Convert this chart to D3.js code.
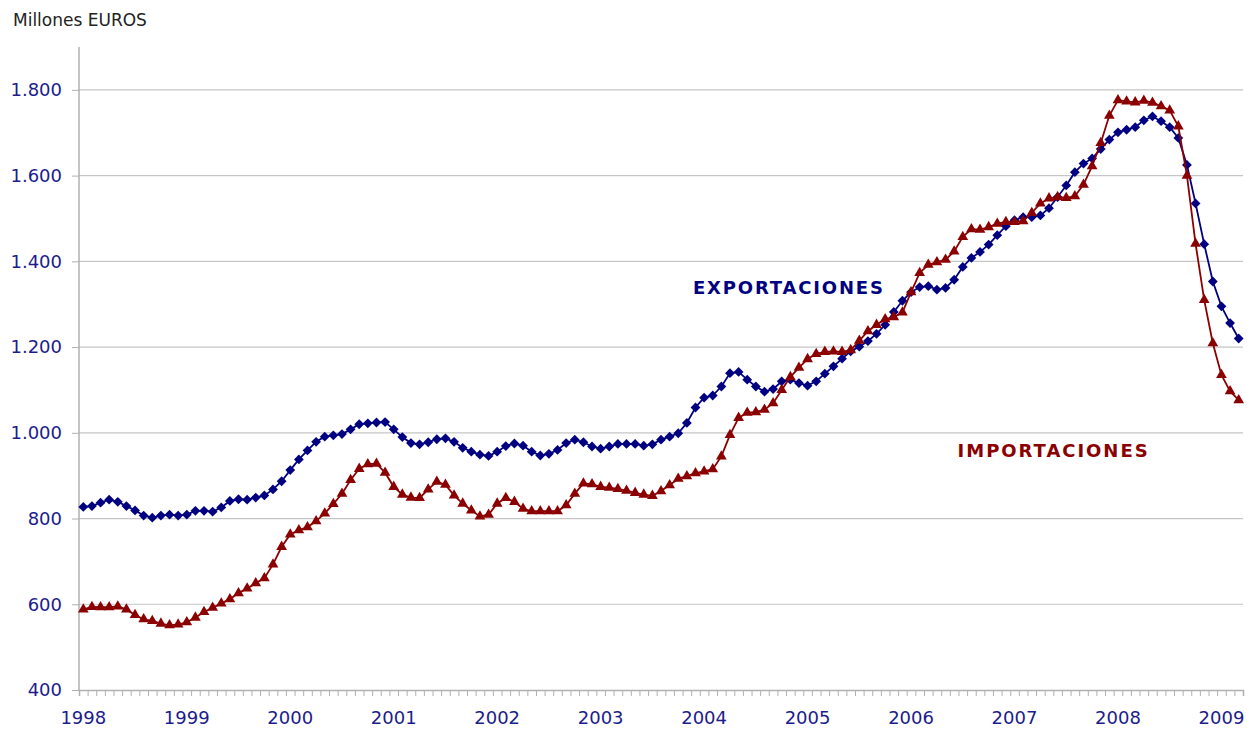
<!DOCTYPE html>
<html>
<head>
<meta charset="utf-8">
<script src="https://cdn.jsdelivr.net/npm/d3@7"></script>
<style>
  body { margin: 0; background: #fff; }
  svg { display: block; font-family: "DejaVu Sans", Verdana, sans-serif; }
</style>
</head>
<body>
<script>
// Monthly values, Jan 1998 - Mar 2009 (millones de euros)
const years = ["1998", "1999", "2000", "2001", "2002", "2003", "2004", "2005", "2006", "2007", "2008", "2009"];

const exportaciones = [
  827, 829, 837, 844, 839, 829, 819, 807, 802, 807, 809, 807,
  809, 818, 818, 816, 826, 841, 845, 844, 849, 854, 868, 887,
  913, 938, 959, 979, 991, 994, 997, 1008, 1020, 1022, 1024, 1025,
  1008, 990, 976, 973, 978, 985, 987, 979, 965, 956, 949, 946,
  956, 969, 975, 970, 956, 947, 951, 960, 976, 984, 978, 968,
  963, 968, 974, 974, 974, 970, 973, 984, 991, 999, 1023, 1059,
  1082, 1087, 1108, 1139, 1142, 1124, 1108, 1096, 1102, 1120, 1124, 1116,
  1110, 1120, 1138, 1155, 1173, 1190, 1201, 1214, 1231, 1252, 1282, 1308,
  1328, 1340, 1342, 1334, 1338, 1357, 1387, 1408, 1422, 1439, 1461, 1482,
  1496, 1503, 1503, 1507, 1524, 1550, 1577, 1608, 1628, 1640, 1662, 1684,
  1701, 1707, 1713, 1729, 1738, 1727, 1713, 1688, 1625, 1535, 1440, 1353,
  1295, 1256, 1220
];

const importaciones = [
  588, 594, 593, 593, 595, 588, 575, 565, 561, 555, 551, 553,
  558, 569, 582, 592, 602, 612, 626, 637, 649, 661, 693, 734,
  763, 773, 780, 794, 812, 834, 858, 890, 916, 927, 928, 907,
  874, 856, 849, 848, 868, 886, 879, 854, 835, 819, 805, 809,
  835, 848, 839, 823, 817, 817, 817, 817, 831, 858, 882, 880,
  874, 872, 869, 865, 860, 856, 853, 864, 878, 893, 899, 906,
  910, 915, 945, 995, 1035, 1047, 1048, 1054, 1069, 1100, 1130, 1152,
  1172, 1184, 1189, 1190, 1189, 1193, 1215, 1237, 1252, 1265, 1270, 1281,
  1328, 1373, 1392, 1398, 1404, 1423, 1457, 1475, 1474, 1480, 1488, 1492,
  1492, 1494, 1513, 1535, 1547, 1550, 1548, 1552, 1579, 1622, 1676, 1740,
  1776, 1773, 1771, 1775, 1770, 1762, 1752, 1715, 1600, 1441, 1310, 1209,
  1135, 1097, 1076
];

const yTicks = [400, 600, 800, 1000, 1200, 1400, 1600, 1800];

const width = 1247;
const height = 729;
const plotLeft = 79, plotRight = 1243, plotTop = 47, plotBottom = 690;

const nMonths = exportaciones.length;

const x = d3.scaleLinear().domain([0, nMonths]).range([plotLeft, plotRight]);
const y = d3.scaleLinear().domain([400, 1900]).range([plotBottom, plotTop]);

const fmt = d3.formatLocale({ decimal: ",", thousands: ".", grouping: [3] }).format(",");

const svg = d3.select("body")
  .append("svg")
  .attr("width", width)
  .attr("height", height);

// gridlines
svg.append("g")
  .selectAll("line")
  .data(yTicks.slice(1))
  .join("line")
  .attr("x1", plotLeft)
  .attr("x2", plotRight)
  .attr("y1", d => y(d))
  .attr("y2", d => y(d))
  .attr("stroke", "#c6c6c6")
  .attr("stroke-width", 1.2);

// y axis
const yAxis = svg.append("g")
  .attr("transform", `translate(${plotLeft},0)`)
  .call(d3.axisLeft(y).tickValues(yTicks).tickSize(7).tickPadding(10).tickFormat(d => fmt(d)));
yAxis.select(".domain").attr("stroke", "#b0b0b0").attr("stroke-width", 1.5)
  .attr("d", `M0,${plotTop}V${plotBottom}`);
yAxis.selectAll(".tick line").attr("stroke", "#b0b0b0");
yAxis.selectAll(".tick text")
  .attr("fill", "#1c1c8c")
  .style("font-size", "18px")
  .style("font-family", "DejaVu Sans, Verdana, sans-serif");

// x axis: monthly minor ticks
const xAxis = svg.append("g")
  .attr("transform", `translate(0,${plotBottom})`)
  .call(d3.axisBottom(x).tickValues(d3.range(0, nMonths + 1)).tickSize(6).tickFormat(""));
xAxis.select(".domain").attr("stroke", "#b0b0b0").attr("stroke-width", 1.5);
xAxis.selectAll(".tick line").attr("stroke", "#b0b0b0");

// year labels at January of each year
svg.append("g")
  .selectAll("text")
  .data(years)
  .join("text")
  .attr("x", (d, i) => x(i * 12 + 0.5))
  .attr("y", 724)
  .attr("text-anchor", "middle")
  .attr("fill", "#1c1c8c")
  .style("font-size", "18px")
  .text(d => d);

// axis title
svg.append("text")
  .attr("x", 13)
  .attr("y", 26)
  .attr("fill", "#222")
  .style("font-size", "17px")
  .text("Millones EUROS");

const line = d3.line()
  .x((d, i) => x(i + 0.5))
  .y(d => y(d));

const series = [
  { name: "EXPORTACIONES", values: exportaciones, color: "#000080", symbol: d3.symbolSquare, size: 48, rotate: 45, lx: 71.2, ly: 1324 },
  { name: "IMPORTACIONES", values: importaciones, color: "#8b0000", symbol: d3.symbolTriangle, size: 50, rotate: 0, lx: 101.9, ly: 944 }
];

series.forEach(s => {
  svg.append("path")
    .datum(s.values)
    .attr("fill", "none")
    .attr("stroke", s.color)
    .attr("stroke-width", 1.8)
    .attr("d", line);

  svg.append("g")
    .selectAll("path")
    .data(s.values)
    .join("path")
    .attr("d", d3.symbol(s.symbol, s.size))
    .attr("transform", (d, i) => `translate(${x(i + 0.5)},${y(d)}) rotate(${s.rotate})`)
    .attr("fill", s.color);

  svg.append("text")
    .attr("x", x(s.lx))
    .attr("y", y(s.ly))
    .attr("fill", s.color)
    .attr("textLength", 190)
    .attr("lengthAdjust", "spacing")
    .style("font-size", "18px")
    .style("font-weight", "bold")
    .text(s.name);
});
</script>
</body>
</html>
